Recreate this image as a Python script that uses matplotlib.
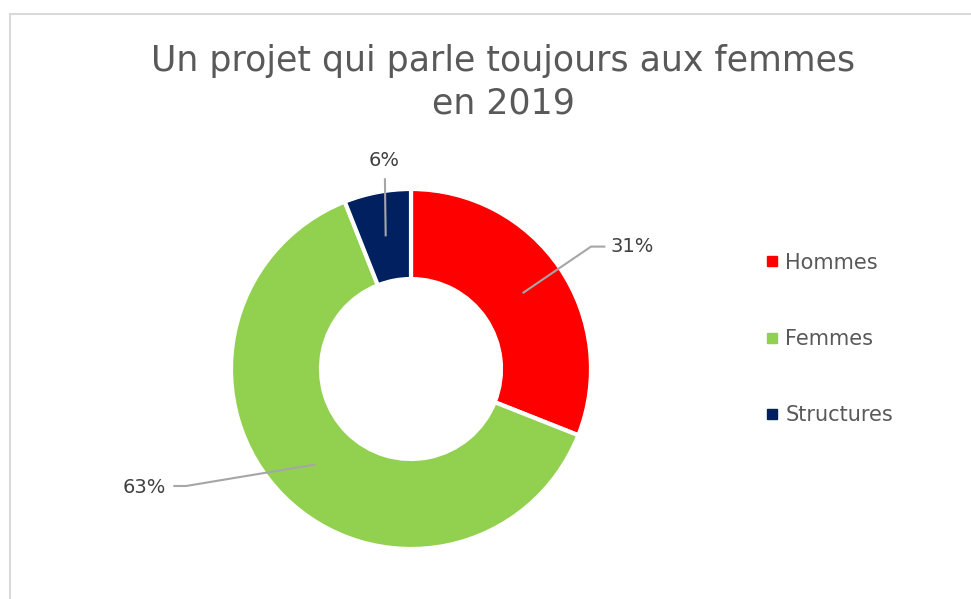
import matplotlib
matplotlib.use("Agg")
import matplotlib.pyplot as plt
from matplotlib.lines import Line2D
import numpy as np

categories = ["Hommes", "Femmes", "Structures"]
values = [31, 63, 6]
labels = ["31%", "63%", "6%"]
colors = ["#FF0000", "#92D050", "#002060"]
title = "Un projet qui parle toujours aux femmes\nen 2019"

plt.rcParams['font.family'] = ['DejaVu Sans']
W, H = 971, 599
fig = plt.figure(figsize=(W / 100, H / 100), dpi=100)

# chart border (top and left only visible)
fig.add_artist(Line2D([10 / W, 1.0], [1 - 14 / H, 1 - 14 / H], color="#d9d9d9", lw=1.5))
fig.add_artist(Line2D([10 / W, 10 / W], [0, 1 - 14 / H], color="#d9d9d9", lw=1.5))

cx, cy, R = 411, 369, 180
ax = fig.add_axes([(cx - R) / W, (H - cy - R) / H, 2 * R / W, 2 * R / H])
wedges, _ = ax.pie(values, colors=colors, startangle=90, counterclock=False,
                   radius=1.0, wedgeprops=dict(width=0.5, edgecolor="white", linewidth=3))
ax.set_xlim(-1, 1)
ax.set_ylim(-1, 1)
ax.set_aspect("equal")
ax.axis("off")

total = sum(values)
cum = np.cumsum([0] + values)
line_col = "#a6a6a6"
txt_col = "#404040"
# label layout: (elbow offset, end offset, text offset, ha) in data units
layout = {
    0: dict(elbow=(1.0, 0.68), end=(1.08, 0.68), text=(1.11, 0.68), ha="left"),
    1: dict(elbow=(-1.25, -0.65), end=(-1.32, -0.65), text=(-1.36, -0.66), ha="right"),
    2: dict(elbow=None, end=(-0.145, 1.06), text=(-0.15, 1.16), ha="center"),
}
for i, v in enumerate(values):
    mid = 90 - (cum[i] + v / 2) / total * 360
    sx, sy = 0.75 * np.cos(np.radians(mid)), 0.75 * np.sin(np.radians(mid))
    L = layout[i]
    xs, ys = [sx], [sy]
    if L["elbow"]:
        xs.append(L["elbow"][0]); ys.append(L["elbow"][1])
    xs.append(L["end"][0]); ys.append(L["end"][1])
    ax.plot(xs, ys, color=line_col, lw=1.5, clip_on=False, solid_capstyle="butt")
    ax.text(L["text"][0], L["text"][1], labels[i], ha=L["ha"], va="center",
            fontsize=14, color=txt_col, clip_on=False)

fig.text(503 / W, 1 - 82 / H, title, ha="center", va="center", fontsize=25,
         color="#595959", linespacing=1.3)

handles = [Line2D([], [], marker="s", linestyle="none", markersize=7,
                  markerfacecolor=c, markeredgecolor=c) for c in colors]
fig.legend(handles, categories, loc="center left", bbox_to_anchor=(755 / W, 1 - 339 / H),
           frameon=False, fontsize=15, labelcolor="#595959", handlelength=0.6,
           handletextpad=0.35, labelspacing=2.7, borderpad=0)

fig.savefig("out.png", dpi=100)
